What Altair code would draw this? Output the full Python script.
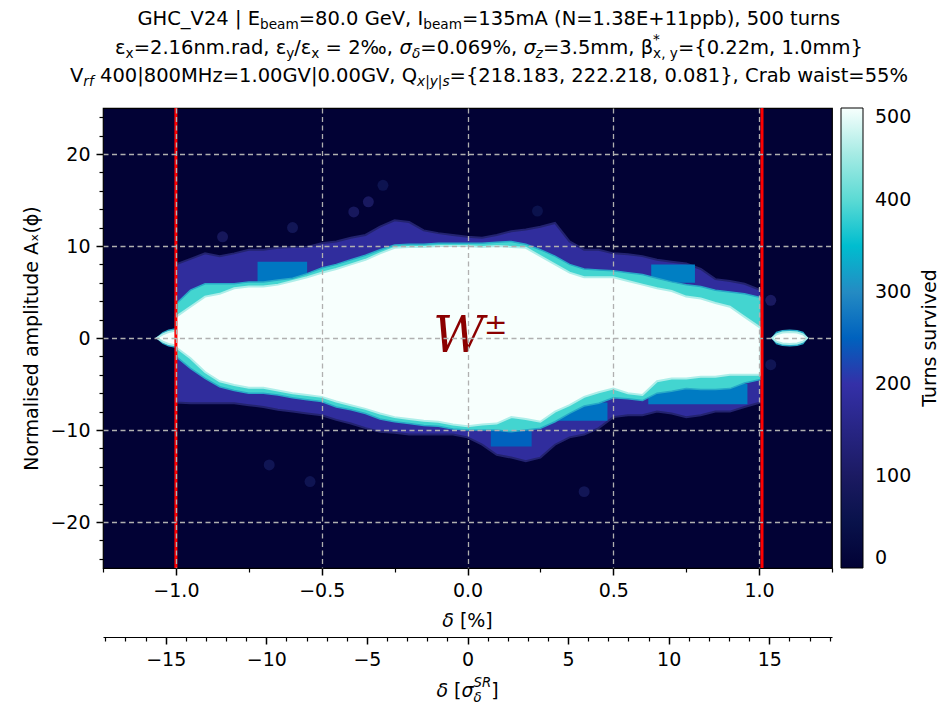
import altair as alt
import pandas as pd

FONT = "DejaVu Sans"
FS = 19.5            # title text
FS_TICK = 19         # tick labels and axis titles

# Plot frame inside the 948 x 705 page
PLOT_LEFT, PLOT_TOP, PLOT_W, PLOT_H = 103, 108, 729, 460
TITLE_CENTER = 489

# ---------------------------------------------------------------------------
# Survival map: for each delta column, limits (in sigma) of the
# fully surviving core (white), the cyan fringe and the blue fringe
# ---------------------------------------------------------------------------
delta_cols = [-1.0, -0.95, -0.9, -0.85, -0.8, -0.75, -0.7, -0.65, -0.6, -0.55,
              -0.5, -0.45, -0.4, -0.35, -0.3, -0.25, -0.2, -0.15, -0.1, -0.05,
              0.0, 0.05, 0.1, 0.15, 0.2, 0.25, 0.3, 0.35, 0.4, 0.45,
              0.5, 0.55, 0.6, 0.65, 0.7, 0.75, 0.8, 0.85, 0.9, 0.95, 1.005]
white_top = [2.3, 3.4, 4.5, 4.8, 5.4, 5.6, 5.6, 5.8, 6.2, 6.6,
             7.1, 7.5, 8.0, 8.5, 9.2, 9.8, 9.9, 9.9, 10.0, 10.0,
             10.0, 9.9, 10.0, 9.9, 9.8, 8.9, 8.0, 7.1, 6.6, 6.6,
             6.6, 6.2, 5.8, 5.4, 5.1, 4.5, 4.3, 3.8, 3.4, 2.3, 1.1]
cyan_top = [3.7, 5.2, 5.9, 5.9, 5.9, 6.1, 6.1, 6.3, 6.5, 7.0,
            7.6, 8.0, 8.5, 9.0, 9.6, 10.1, 10.2, 10.2, 10.3, 10.3,
            10.3, 10.3, 10.4, 10.5, 10.2, 9.6, 8.9, 8.0, 7.5, 7.4,
            7.3, 7.1, 6.9, 6.5, 6.1, 5.8, 5.6, 5.2, 5.0, 4.8, 4.4]
blue_top = [8.0, 8.6, 9.2, 8.9, 9.2, 9.6, 9.6, 9.8, 9.9, 9.9,
            10.3, 10.5, 10.9, 11.2, 12.1, 12.8, 12.6, 11.7, 11.4, 11.2,
            11.0, 10.9, 11.2, 11.6, 11.8, 12.1, 12.5, 10.5, 9.6, 9.6,
            9.2, 9.1, 8.9, 8.5, 8.3, 8.1, 7.5, 6.4, 6.2, 5.9, 5.2]
white_bot = [-1.0, -2.2, -3.7, -4.7, -5.1, -5.4, -5.4, -5.7, -6.0, -6.2,
             -6.4, -6.9, -7.3, -7.7, -8.2, -8.6, -8.8, -9.0, -9.1, -9.4,
             -9.6, -9.4, -9.3, -8.6, -8.8, -9.1, -8.0, -7.3, -6.4, -5.9,
             -5.5, -6.0, -6.2, -4.7, -4.4, -4.4, -4.2, -4.2, -4.0, -4.0, -4.0]
cyan_bot = [-2.0, -3.3, -4.4, -5.3, -5.7, -6.0, -6.0, -6.2, -6.5, -6.7,
            -6.9, -7.5, -7.8, -8.2, -8.8, -9.1, -9.3, -9.5, -9.6, -9.9,
            -10.0, -10.0, -10.0, -10.2, -10.0, -9.8, -9.1, -8.2, -7.4, -7.1,
            -6.5, -6.6, -6.8, -6.0, -5.8, -5.5, -5.6, -5.6, -5.5, -4.9, -4.5]
blue_bot = [-7.0, -7.1, -7.1, -7.1, -7.1, -7.3, -7.5, -7.8, -8.0, -8.2,
            -8.4, -8.9, -9.3, -9.8, -10.2, -10.3, -10.5, -10.5, -10.5, -10.5,
            -10.8, -11.6, -12.7, -13.0, -13.4, -13.0, -11.6, -10.8, -10.5, -9.8,
            -8.6, -8.4, -8.4, -8.0, -8.2, -8.6, -8.4, -8.0, -8.0, -7.5, -7.0]
band_turns = {"blue": 185, "cyan": 385, "white": 500}

# small stable islands around A = 0 just outside the RF acceptance
isl_right_delta = [1.045, 1.06, 1.08, 1.105, 1.13, 1.15, 1.165]
isl_right_cyan = [0.0, 0.6, 0.8, 0.85, 0.8, 0.6, 0.0]
isl_right_white = [0.0, 0.4, 0.6, 0.65, 0.6, 0.4, 0.0]
isl_left_delta = [-1.065, -1.045, -1.025, -1.0]
isl_left_cyan = [0.0, 0.55, 0.85, 1.0]
isl_left_white = [0.0, 0.4, 0.65, 0.8]

# medium-survival patches inside the fringe
patch_d0 = [-0.72, 0.63, 0.30, 0.62, 0.08]
patch_d1 = [-0.55, 0.78, 0.48, 0.96, 0.22]
patch_a0 = [6.0, 6.0, -9.0, -7.2, -11.8]
patch_a1 = [8.3, 8.0, -7.0, -5.0, -9.5]
patch_turns = [275, 285, 270, 280, 250]

# isolated surviving particles
spot_delta = [-0.84, -0.60, -0.39, -0.34, -0.29, -0.68, -0.54, 0.40, 0.24, 1.04, 1.04]
spot_amp = [11.0, 12.0, 13.7, 14.8, 16.6, -13.8, -15.6, -16.7, 13.8, 4.1, -2.9]
spot_turns = [85, 75, 90, 95, 60, 70, 65, 75, 55, 95, 70]

# RF momentum acceptance
red_lines = [-1.0, 1.01]

# axes
x_dom = [-1.25, 1.25]
y_dom = [-25, 25]
sigma_delta = 0.069  # %
s_dom = [x_dom[0] / sigma_delta, x_dom[1] / sigma_delta]
x_major = [-1.0, -0.5, 0.0, 0.5, 1.0]
x_minor = [-1.25, -0.75, -0.25, 0.25, 0.75, 1.25]
y_major = [-20, -10, 0, 10, 20]
y_minor = [-24, -22, -18, -16, -14, -12, -8, -6, -4, -2,
           2, 4, 6, 8, 12, 14, 16, 18, 22, 24]
s_major = [-15, -10, -5, 0, 5, 10, 15]
s_minor = [-18, -17, -16, -14, -13, -12, -11, -9, -8, -7, -6, -4, -3, -2, -1,
           1, 2, 3, 4, 6, 7, 8, 9, 11, 12, 13, 14, 16, 17, 18]

# colour map of turns survived
turn_stops = [0, 100, 200, 300, 370, 430, 500]
turn_colors = ["#020235", "#1b1a62", "#3430a8", "#248bc3", "#1fd0cc", "#7fe3dd", "#f7fffd"]
cbar_values = [0, 100, 200, 300, 400, 500]

# ---------------------------------------------------------------------------
# tables
# ---------------------------------------------------------------------------
rows = []
for i, d in enumerate(delta_cols):
    rows.append(dict(band="blue", piece="body", delta=d, lo=blue_bot[i], hi=blue_top[i], turns=band_turns["blue"]))
    rows.append(dict(band="cyan", piece="body", delta=d, lo=cyan_bot[i], hi=cyan_top[i], turns=band_turns["cyan"]))
    rows.append(dict(band="white", piece="body", delta=d, lo=white_bot[i], hi=white_top[i], turns=band_turns["white"]))
for d, c, w in zip(isl_right_delta, isl_right_cyan, isl_right_white):
    rows.append(dict(band="cyan", piece="right", delta=d, lo=-c, hi=c, turns=band_turns["cyan"]))
    rows.append(dict(band="white", piece="right", delta=d, lo=-w, hi=w, turns=band_turns["white"]))
for d, c, w in zip(isl_left_delta, isl_left_cyan, isl_left_white):
    rows.append(dict(band="cyan", piece="left", delta=d, lo=-c, hi=c, turns=band_turns["cyan"]))
    rows.append(dict(band="white", piece="left", delta=d, lo=-w, hi=w, turns=band_turns["white"]))
bands = pd.DataFrame(rows)

patches = pd.DataFrame(dict(d0=patch_d0, d1=patch_d1, a0=patch_a0, a1=patch_a1, turns=patch_turns))
spots = pd.DataFrame(dict(delta=spot_delta, amp=spot_amp, turns=spot_turns))
reds = pd.DataFrame(dict(d=red_lines))

# ---------------------------------------------------------------------------
# text layout with sub/superscripts (DejaVu Sans advance widths, 2048 units/em)
# ---------------------------------------------------------------------------
GLYPH_W = {
    " ": 651, "!": 821, "%": 1946, "(": 799, ")": 799, "*": 1024, "+": 1716, ",": 651,
    "-": 739, ".": 651, "/": 690, "=": 1716, "[": 799, "]": 799, "_": 1024, "{": 1303,
    "|": 690, "}": 1303,
    "A": 1401, "C": 1430, "E": 1294, "G": 1587, "H": 1540, "I": 604, "M": 1767,
    "N": 1532, "Q": 1612, "R": 1423, "S": 1300, "V": 1401,
    "a": 1255, "b": 1300, "d": 1300, "e": 1260, "f": 721, "i": 569, "m": 1995, "n": 1298,
    "p": 1300, "r": 842, "s": 1067, "t": 803, "u": 1298, "w": 1675, "x": 1212, "y": 1212,
    "z": 1075, "β": 1300, "δ": 1253, "ε": 1100, "σ": 1300, "‰": 2800,
}
for ch in "0123456789":
    GLYPH_W[ch] = 1303


def text_w(s, size):
    return sum(GLYPH_W.get(c, 1300) for c in s) * size / 2048


def seg_rows(segs, cx, base, fs):
    small = fs * 0.7
    items, total = [], 0.0
    for seg in segs:
        kind = seg[0]
        if kind == "stack":
            w = max(text_w(seg[1], small), text_w(seg[2], small))
        elif kind.startswith("sub"):
            w = text_w(seg[1], small)
        else:
            w = text_w(seg[1], fs)
        items.append((seg, w))
        total += w
    out = []

    def put(txt, size, dy, italic, x0):
        lead = len(txt) - len(txt.lstrip(" "))
        out.append({"px": x0 + text_w(" " * lead, size) - PLOT_LEFT,
                    "py": base + dy - PLOT_TOP,
                    "txt": txt.strip(" "), "fs": size, "it": italic})

    x = cx - total / 2
    for seg, w in items:
        kind = seg[0]
        if kind == "stack":
            put(seg[1], small, -10, seg[3], x)
            put(seg[2], small, 4.5, seg[3], x)
        elif kind == "sub":
            put(seg[1], small, 4, False, x)
        elif kind == "subi":
            put(seg[1], small, 4, True, x)
        elif kind == "i":
            put(seg[1], fs, 0, True, x)
        else:
            put(seg[1], fs, 0, False, x)
        x += w
    return out


title_lines = [
    [("n", "GHC_V24 | E"), ("sub", "beam"), ("n", "=80.0 GeV, I"), ("sub", "beam"),
     ("n", "=135mA (N=1.38E+11ppb), 500 turns")],
    [("n", "ε"), ("sub", "x"), ("n", "=2.16nm.rad, ε"), ("sub", "y"), ("n", "/ε"), ("sub", "x"),
     ("n", " = 2‰, "), ("i", "σ"), ("subi", "δ"), ("n", "=0.069%, "), ("i", "σ"), ("subi", "z"),
     ("n", "=3.5mm, β"), ("stack", "*", "x, y", False), ("n", "={0.22m, 1.0mm}")],
    [("n", "V"), ("subi", "rf"), ("n", " 400|800MHz=1.00GV|0.00GV, Q"), ("subi", "x|y|s"),
     ("n", "={218.183, 222.218, 0.081}, Crab waist=55%")],
]
title_baselines = [25, 53.5, 82]
plot_center = PLOT_LEFT + PLOT_W / 2

text_rows = []
for segs, b in zip(title_lines, title_baselines):
    text_rows += seg_rows(segs, TITLE_CENTER, b, FS)
text_rows += seg_rows([("i", "δ"), ("n", " [%]")], plot_center, 627, FS_TICK)
text_rows += seg_rows([("i", "δ"), ("n", " ["), ("i", "σ"), ("stack", "SR", "δ", True), ("n", "]")],
                      plot_center, 697, FS_TICK)
texts = pd.DataFrame(text_rows)

# ---------------------------------------------------------------------------
# chart
# ---------------------------------------------------------------------------
xs = alt.Scale(domain=x_dom, nice=False, zero=False)
ys = alt.Scale(domain=y_dom, nice=False, zero=False)
ss = alt.Scale(domain=s_dom, nice=False, zero=False)
cs = alt.Scale(domain=turn_stops, range=turn_colors)

legend = alt.Legend(title=None, orient="right", offset=9, padding=0, direction="vertical",
                    gradientLength=PLOT_H, gradientThickness=22, gradientOpacity=1,
                    gradientStrokeColor="black", gradientStrokeWidth=1,
                    values=cbar_values, format="d", labelFontSize=FS_TICK, labelFont=FONT,
                    labelColor="black", labelOffset=12, labelBaseline="middle")
color = alt.Color("turns:Q", scale=cs, legend=legend)

grid_kw = dict(grid=True, gridDash=[5, 3.5], gridColor="#b0b0b0", gridWidth=1.3, zindex=1)
tick_kw = dict(tickColor="black", labelColor="black", labelFont=FONT, labelFontSize=FS_TICK,
               domain=False, labelFlush=False, labelOverlap=False)

ax_x = alt.Axis(values=x_major, format=".1f", orient="bottom", tickSize=7, tickWidth=1.5,
                labelPadding=6, title=None, **grid_kw, **tick_kw)
ax_y = alt.Axis(values=y_major, format="d", orient="left", tickSize=7, tickWidth=1.5,
                labelPadding=6, title="Normalised amplitude Aₓ(ϕ)", titleFont=FONT,
                titleFontSize=FS_TICK, titleFontWeight="normal", titleColor="black",
                titlePadding=8, **grid_kw, **tick_kw)
ax_x_minor = alt.Axis(values=x_minor, orient="bottom", tickSize=4, tickWidth=1.2,
                      labels=False, grid=False, domain=False, title=None, tickColor="black")
ax_y_minor = alt.Axis(values=y_minor, orient="left", tickSize=4, tickWidth=1.2,
                      labels=False, grid=False, domain=False, title=None, tickColor="black")
ax_s = alt.Axis(values=s_major, format="d", orient="bottom", offset=69, tickSize=7,
                tickWidth=1.5, labelPadding=6, title=None, grid=False, domain=True,
                domainColor="black", domainWidth=1.2, tickColor="black", labelColor="black",
                labelFont=FONT, labelFontSize=FS_TICK, labelFlush=False, labelOverlap=False)
ax_s_minor = alt.Axis(values=s_minor, orient="bottom", offset=69, tickSize=4, tickWidth=1.2,
                      labels=False, grid=False, domain=False, title=None, tickColor="black")

base_bands = alt.Chart(bands)

blue_area = base_bands.transform_filter("datum.band == 'blue'").mark_area(
    interpolate="linear", clip=True, opacity=1, stroke="#23236f", strokeWidth=2
).encode(
    x=alt.X("delta:Q", scale=xs, axis=ax_x),
    y=alt.Y("lo:Q", scale=ys, axis=ax_y),
    y2="hi:Q",
    color=color,
    detail="piece:N",
)

minor_ticks = base_bands.mark_point(opacity=0).encode(
    x=alt.X("delta:Q", scale=xs, axis=ax_x_minor),
    y=alt.Y("lo:Q", scale=ys, axis=ax_y_minor),
)

patch_layer = alt.Chart(patches).mark_rect(clip=True, opacity=1).encode(
    x=alt.X("d0:Q", scale=xs, axis=None),
    x2="d1:Q",
    y=alt.Y("a0:Q", scale=ys, axis=None),
    y2="a1:Q",
    color=color,
)

spot_layer = alt.Chart(spots).mark_circle(size=120, opacity=1, clip=True).encode(
    x=alt.X("delta:Q", scale=xs, axis=None),
    y=alt.Y("amp:Q", scale=ys, axis=None),
    color=color,
)

cyan_area = base_bands.transform_filter("datum.band == 'cyan'").mark_area(
    interpolate="linear", clip=True, opacity=1, stroke="#27a9c7", strokeWidth=1.5
).encode(
    x=alt.X("delta:Q", scale=xs, axis=None),
    y=alt.Y("lo:Q", scale=ys, axis=None),
    y2="hi:Q",
    color=color,
    detail="piece:N",
)

white_area = base_bands.transform_filter("datum.band == 'white'").mark_area(
    interpolate="linear", clip=True, opacity=1, stroke="#aeeee9", strokeWidth=2
).encode(
    x=alt.X("delta:Q", scale=xs, axis=None),
    y=alt.Y("lo:Q", scale=ys, axis=None),
    y2="hi:Q",
    color=color,
    detail="piece:N",
)

red_rules = alt.Chart(reds).mark_rule(color="#ff0000", strokeWidth=3).encode(
    x=alt.X("d:Q", scale=xs, axis=None),
)

one = pd.DataFrame({"k": [0]})
w_label = alt.Chart(one).mark_text(
    text="W", font="DejaVu Serif", fontStyle="italic", fontSize=50, color="#8b0000",
    align="left", baseline="alphabetic"
).encode(x=alt.value(330), y=alt.value(244))
pm_label = alt.Chart(one).mark_text(
    text="±", font="DejaVu Serif", fontSize=28, color="#8b0000",
    align="left", baseline="alphabetic"
).encode(x=alt.value(381), y=alt.value(226))

cbar_title = alt.Chart(one).mark_text(
    text="Turns survived", font=FONT, fontSize=FS_TICK, color="black", angle=270,
    align="center", baseline="middle"
).encode(x=alt.value(827), y=alt.value(PLOT_H / 2))

sigma_axis = alt.Chart(pd.DataFrame({"s": s_major})).mark_point(opacity=0).encode(
    x=alt.X("s:Q", scale=ss, axis=ax_s)
)
sigma_minor = alt.Chart(pd.DataFrame({"s": s_minor})).mark_point(opacity=0).encode(
    x=alt.X("s:Q", scale=ss, axis=ax_s_minor)
)


def text_layer(df, italic):
    return alt.Chart(df).mark_text(
        align="left", baseline="alphabetic", font=FONT, color="black",
        fontStyle="italic" if italic else "normal"
    ).encode(
        x=alt.X("px:Q", scale=None, axis=None),
        y=alt.Y("py:Q", scale=None, axis=None),
        text="txt:N",
        size=alt.Size("fs:Q", scale=None, legend=None),
    )


plain_text = text_layer(texts[~texts["it"]].drop(columns="it"), False)
italic_text = text_layer(texts[texts["it"]].drop(columns="it"), True)

chart = alt.layer(
    blue_area, minor_ticks, patch_layer, spot_layer, cyan_area, white_area,
    red_rules, w_label, pm_label, cbar_title, sigma_axis, sigma_minor,
    plain_text, italic_text,
).resolve_scale(
    x="independent"
).resolve_axis(
    x="independent", y="independent"
).properties(
    width=PLOT_W, height=PLOT_H,
    padding={"left": PLOT_LEFT, "top": PLOT_TOP, "right": 948 - PLOT_LEFT - PLOT_W,
             "bottom": 705 - PLOT_TOP - PLOT_H},
    autosize=alt.AutoSizeParams(type="none"),
).configure_view(
    fill=turn_colors[0], stroke="black", strokeWidth=1.2
)

chart.save("out.html", embed_options={"renderer": "svg", "actions": False})
